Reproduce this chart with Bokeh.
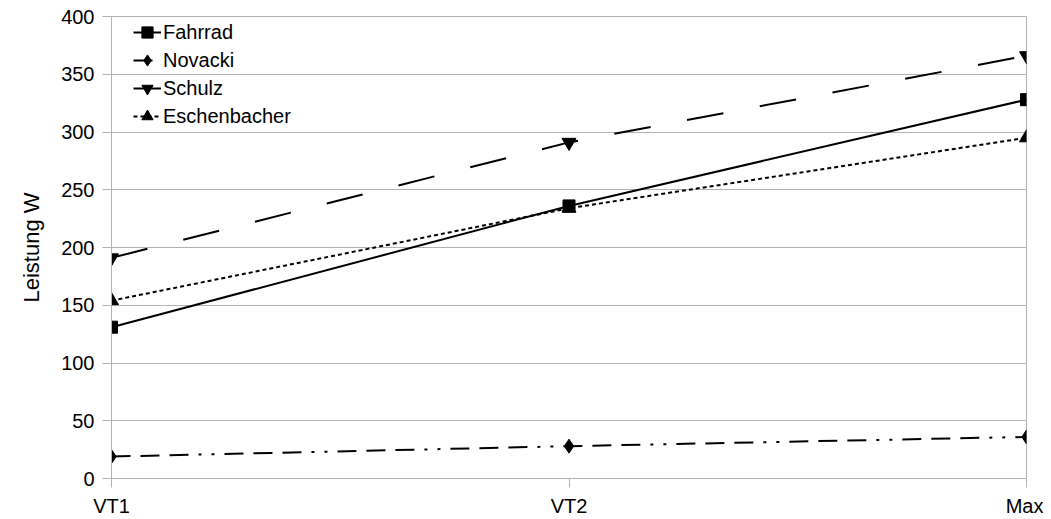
import math
from bokeh.plotting import figure
from bokeh.models import Range1d, FixedTicker, Legend, LegendItem, Title
from bokeh.embed import file_html
from bokeh.resources import INLINE

categories = ["VT1", "VT2", "Max"]
fahrrad = [131, 236, 328]
novacki = [19, 28, 36]
schulz = [191, 291, 366]
eschenbacher = [154, 234, 295]
y_ticks = [0, 50, 100, 150, 200, 250, 300, 350, 400]
y_title = "Leistung W"

xs = list(range(len(categories)))

p = figure(width=1043, height=519, output_backend="svg", toolbar_location=None,
           x_range=Range1d(0, len(categories) - 1), y_range=Range1d(0, 400),
           min_border_left=111, min_border_right=17, min_border_top=16, min_border_bottom=39)
p.background_fill_color = "white"
p.border_fill_color = "white"
p.outline_line_color = "#b3b3b3"
p.outline_line_width = 1

grey = "#b3b3b3"
font = "Liberation Sans"

p.xgrid.visible = False
p.ygrid.grid_line_color = grey
p.ygrid.ticker = FixedTicker(ticks=y_ticks)

xaxis = p.xaxis[0]
yaxis = p.yaxis[0]
yaxis.ticker = FixedTicker(ticks=y_ticks)
xaxis.ticker = FixedTicker(ticks=xs)
xaxis.major_label_overrides = {i: c for i, c in enumerate(categories)}
for ax in (xaxis, yaxis):
    ax.axis_line_color = grey
    ax.major_tick_line_color = grey
    ax.major_tick_out = 9
    ax.major_tick_in = 0
    ax.minor_tick_line_color = None
    ax.major_label_text_font = font
    ax.major_label_text_font_size = "20px"
    ax.major_label_text_color = "#000000"
yaxis.major_label_standoff = 8
xaxis.major_label_standoff = 7

p.add_layout(Title(text=y_title, align="center", text_font=font, text_font_size="22px",
                   text_font_style="normal", text_color="#000000", standoff=30, offset=0),
             "left")

series = [
    ("Fahrrad", fahrrad, "solid", "square", 12),
    ("Novacki", novacki, "19 10 19 10 19 10 3 10 3 10", "diamond", 14),
    ("Schulz", schulz, "37 37", "inverted_triangle", 14),
    ("Eschenbacher", eschenbacher, "4 3", "triangle", 14),
]

items = []
for name, vals, dash, marker, size in series:
    l = p.line(xs, vals, line_color="black", line_width=2, line_dash=dash)
    s = p.scatter(xs, vals, marker=marker, size=size,
                  fill_color="black", line_color="black")
    items.append(LegendItem(label=name, renderers=[l, s]))

legend = Legend(items=items, location=(22, 348), margin=0, padding=0,
                spacing=0, glyph_width=28, glyph_height=28, label_height=20,
                label_standoff=2, label_text_font=font, label_text_font_size="20px",
                label_text_color="#000000",
                background_fill_alpha=0, border_line_color=None)
p.add_layout(legend, "center")

open("out.html", "w").write(file_html(p, INLINE))
